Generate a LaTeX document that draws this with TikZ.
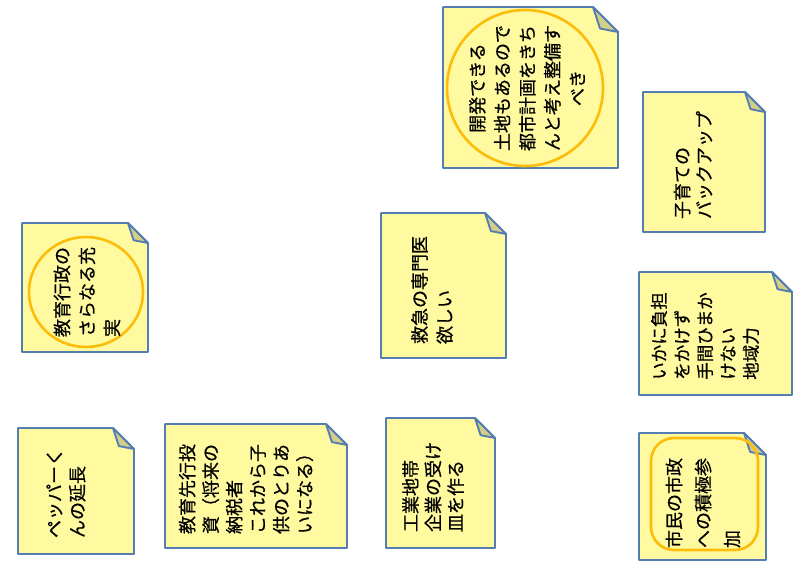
\documentclass[tikz,border=0pt]{standalone}
\usepackage{fontspec}
\setmainfont{Noto Sans CJK JP}[FakeBold=0.6]
\definecolor{noteyellow}{RGB}{255,250,160}
\definecolor{noteblue}{RGB}{84,126,178}
\definecolor{notefoldc}{RGB}{212,206,136}
\definecolor{ringorange}{RGB}{252,188,10}
\tikzset{
  notebody/.style={draw=noteblue, fill=noteyellow, line width=1.9pt, line join=round},
  notefold/.style={draw=noteblue, fill=notefoldc, line width=1.9pt, line join=round},
  ring/.style={draw=ringorange, line width=2.6pt},
  notetext/.style={rotate=90, align=left, inner sep=0pt, text=black},
}
% name, x1, y1, x2, y2, fold
\newcommand\stickynote[6]{%
  \draw[notebody] (#2,#3) -- ({#4-#6},#3) -- (#4,{#3+#6}) -- (#4,#5) -- (#2,#5) -- cycle;
  \draw[notefold] ({#4-#6},#3) -- ({#4-0.72*#6},{#3+0.86*#6}) -- (#4,{#3+#6}) -- cycle;
  \coordinate (#1) at ({(#2+#4)/2},{(#3+#5)/2});
}
\begin{document}
\begin{tikzpicture}[x=1pt,y=-1pt]
\useasboundingbox (0,0) rectangle (795,562);

\stickynote{n1}{443}{7}{618}{168}{25}
\draw[ring] (525,88) circle (78);
\node[notetext, align=center, font=\fontsize{18}{25}\selectfont] (t1) at (527,88)
  {開発できる\\土地もあるので\\都市計画をきち\\んと考え整備す\\べき};

\stickynote{n2}{643}{92}{765}{232}{20}
\node[notetext, font=\fontsize{18}{22}\selectfont] (t2) at (693,165)
  {子育ての\\バックアップ};

\stickynote{n3}{22}{223}{148}{352}{20}
\draw[ring] (86,292) ellipse (57 and 55);
\node[notetext, font=\fontsize{18}{25}\selectfont] (t3) at (87,292)
  {教育行政の\\さらなる充\\実};

\stickynote{n4}{381}{213}{506}{358}{21}
\node[notetext, font=\fontsize{18}{25}\selectfont] (t4) at (432,290)
  {救急の専門医\\欲しい};

\stickynote{n5}{639}{272}{792}{395}{20}
\node[notetext, font=\fontsize{17.5}{23}\selectfont] (t5) at (705,336)
  {いかに負担\\をかけず\\手間ひまか\\けない\\地域力};

\stickynote{n6}{18}{428}{134}{554}{21}
\node[notetext, font=\fontsize{18}{23}\selectfont] (t6) at (66,493)
  {ペッパーく\\んの延長};

\stickynote{n7}{165}{424}{347}{548}{21}
\node[notetext, font=\fontsize{18}{23.5}\selectfont] (t7) at (246,489)
  {教育先行投\\資（将来の\\納税者\\これから子\\供のとりあ\\いになる）};

\stickynote{n8}{386}{418}{495}{548}{20}
\node[notetext, font=\fontsize{18}{22.5}\selectfont] (t8) at (433,487)
  {工業地帯\\企業の受け\\皿を作る};

\stickynote{n9}{639}{433}{766}{560}{22}
\draw[ring, rounded corners=23pt] (651,438) rectangle (758,550);
\node[notetext, font=\fontsize{18}{29}\selectfont] (t9) at (703,503)
  {市民の市政\\への積極参\\加};
\end{tikzpicture}
\end{document}
